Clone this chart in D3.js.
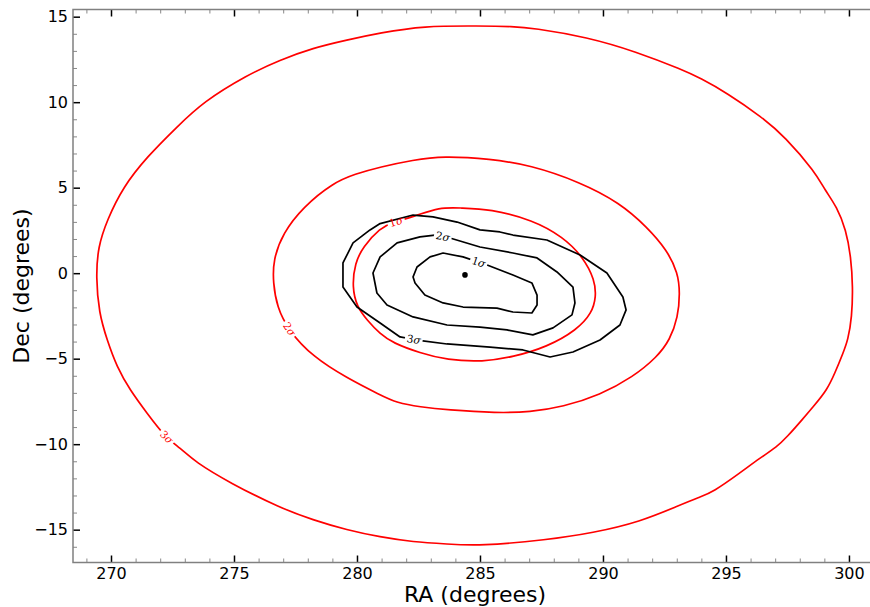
<!DOCTYPE html>
<html><head><meta charset="utf-8">
<script src="https://cdn.jsdelivr.net/npm/d3@7"></script>
<style>body{margin:0;background:#fff}svg{display:block}</style>
</head><body>
<svg id="chart" width="870" height="607"></svg>
<script>
// ---- data ----
const xTicks = [270, 275, 280, 285, 290, 295, 300];
const yTicks = [-15, -10, -5, 0, 5, 10, 15];
const xMinorTicks = [269,271,272,273,274,276,277,278,279,281,282,283,284,286,287,288,289,291,292,293,294,296,297,298,299,301];
const yMinorTicks = [-16,-14,-13,-12,-11,-9,-8,-7,-6,-4,-3,-2,-1,1,2,3,4,6,7,8,9,11,12,13,14];
const xDomain = [268.455, 301.14];
const yDomain = [-16.92, 15.42];
const xTitle = "RA (degrees)";
const yTitle = "Dec (degrees)";
const bestFit = [284.39, -0.10];

// red contours (RA, Dec)
const red3sigma = [[280.94,14.05],[282.68,14.46],[285.00,14.46],[286.34,14.43],[287.15,14.34],[289.35,13.81],[291.38,12.94],[293.25,11.88],[293.94,11.42],[295.04,10.54],[296.46,9.13],[297.40,7.97],[298.62,5.92],[299.02,4.87],[299.51,3.87],[299.88,2.53],[300.08,0.95],[300.16,-0.81],[300.12,-2.56],[299.96,-3.91],[299.76,-4.67],[299.43,-5.84],[299.11,-6.83],[298.54,-7.82],[298.09,-8.58],[297.48,-9.58],[297.07,-10.16],[296.38,-10.81],[295.57,-11.68],[294.47,-12.80],[293.94,-13.09],[293.13,-13.56],[291.50,-14.55],[289.59,-15.19],[287.72,-15.60],[285.00,-15.95],[283.66,-15.84],[282.28,-15.72],[280.94,-15.43],[279.59,-15.02],[278.21,-14.43],[276.87,-13.73],[274.84,-12.27],[273.42,-11.04],[272.81,-10.22],[272.20,-9.58],[271.46,-8.18],[270.77,-6.83],[270.24,-5.49],[269.84,-3.91],[269.51,-2.33],[269.39,-0.22],[269.47,1.53],[269.84,3.11],[270.49,5.04],[271.46,6.80],[272.68,8.55],[273.74,10.01],[275.53,11.59],[276.87,12.47],[278.21,13.17],[279.59,13.64]];
const red2sigma = [[280.94,6.21],[282.28,6.62],[283.50,6.85],[285.41,6.68],[287.03,6.33],[289.07,5.33],[290.69,4.11],[291.79,2.70],[292.60,1.36],[293.05,0.01],[293.13,-1.16],[293.05,-2.56],[292.72,-3.91],[292.20,-4.90],[291.22,-6.07],[289.88,-7.12],[288.37,-7.82],[287.03,-8.12],[285.69,-8.18],[283.66,-8.00],[282.56,-7.82],[281.63,-7.59],[280.94,-7.12],[279.59,-6.13],[278.21,-4.90],[277.20,-3.32],[276.75,-1.98],[276.59,-0.57],[276.59,0.77],[276.99,2.35],[277.81,3.87],[279.02,5.28],[279.92,5.80]];
const red1sigma = [[280.94,2.64],[281.46,2.99],[282.28,3.29],[283.37,3.87],[284.19,3.81],[285.41,3.75],[287.15,3.11],[288.37,2.12],[289.19,0.95],[289.67,-0.40],[289.72,-1.39],[289.55,-2.33],[288.94,-3.32],[287.72,-4.32],[286.34,-4.90],[285.12,-5.19],[283.66,-5.08],[282.56,-4.67],[281.46,-4.08],[280.94,-3.56],[280.41,-2.74],[280.00,-1.98],[279.80,-0.81],[279.92,0.60],[280.24,1.53]];

// black contours (RA, Dec)
const black3sigma = [[280.94,2.90],[282.28,3.40],[283.09,3.29],[284.07,2.99],[285.00,2.53],[285.81,2.41],[286.34,2.23],[287.72,1.94],[289.07,1.06],[290.16,0.01],[290.81,-1.39],[290.94,-2.15],[290.69,-3.03],[289.88,-3.91],[288.78,-4.61],[287.85,-4.90],[286.75,-4.49],[285.41,-4.32],[283.66,-4.14],[282.44,-3.91],[281.75,-3.73],[280.94,-2.91],[280.00,-1.98],[279.43,-0.81],[279.43,0.60],[279.84,1.77],[280.53,2.53]];
const black2sigma = [[283.17,2.23],[283.78,2.06],[285.00,1.53],[286.34,1.18],[287.32,0.89],[288.13,0.07],[288.78,-0.81],[288.86,-1.74],[288.74,-2.44],[287.97,-3.20],[287.15,-3.61],[286.10,-3.32],[285.00,-3.15],[283.66,-3.03],[282.28,-2.56],[281.22,-1.86],[280.81,-1.16],[280.65,0.01],[280.94,0.95],[281.63,1.77],[282.56,2.12]];
const black1sigma = [[283.50,1.18],[282.97,0.95],[282.44,0.36],[282.28,-0.22],[282.36,-0.57],[282.76,-1.28],[283.50,-1.74],[284.31,-1.98],[285.69,-2.04],[286.34,-2.27],[287.11,-2.33],[287.32,-1.86],[287.32,-1.28],[287.11,-0.57],[286.34,-0.11],[285.29,0.48],[284.31,0.95]];

// contour label text and approximate anchor (RA, Dec)
const contourLabelText = ["3", "2", "1", "3", "2", "1"];
const contourLabelAt = [[272.24,-9.61],[277.20,-3.32],[281.59,3.05],[282.32,-3.80],[283.50,2.23],[284.92,0.54]];

// ---- drawing ----
const W = 870, H = 607;
const L = 73, R = 877, T = 9.5, B = 562.5;
const svg = d3.select("#chart");
const x = d3.scaleLinear().domain(xDomain).range([L, R]);
const y = d3.scaleLinear().domain(yDomain).range([B, T]);

const defs = svg.append("defs");
defs.append("clipPath").attr("id", "plotclip")
  .append("rect").attr("x", L).attr("y", T).attr("width", R - L).attr("height", B - T);

const contourSeries = [red3sigma, red2sigma, red1sigma, black3sigma, black2sigma, black1sigma];
const contourColors = ["#ff0000", "#ff0000", "#ff0000", "#000000", "#000000", "#000000"];

const smoothLine = d3.line().x(d => x(d[0])).y(d => y(d[1])).curve(d3.curveBasisClosed);
const polyLine = d3.line().x(d => x(d[0])).y(d => y(d[1])).curve(d3.curveLinearClosed);

const plot = svg.append("g").attr("clip-path", "url(#plotclip)");
const labelLayer = svg.append("g");

contourSeries.forEach((pts, i) => {
  const gen = i < 3 ? smoothLine : polyLine;
  const path = plot.append("path")
    .attr("d", gen(pts))
    .attr("fill", "none")
    .attr("stroke", contourColors[i])
    .attr("stroke-width", 1.7)
    .attr("stroke-linejoin", "round");
  const node = path.node();
  const len = node.getTotalLength();
  const ax = x(contourLabelAt[i][0]), ay = y(contourLabelAt[i][1]);
  let bestS = 0, bestD = Infinity;
  for (let s = 0; s < len; s += 0.5) {
    const p = node.getPointAtLength(s);
    const d = (p.x - ax) ** 2 + (p.y - ay) ** 2;
    if (d < bestD) { bestD = d; bestS = s; }
  }
  const p0 = node.getPointAtLength(Math.max(0, bestS - 6));
  const p1 = node.getPointAtLength(Math.min(len, bestS + 6));
  const pc = node.getPointAtLength(bestS);
  let ang = Math.atan2(p1.y - p0.y, p1.x - p0.x) * 180 / Math.PI;
  if (ang > 90) ang -= 180;
  if (ang < -90) ang += 180;

  const t = labelLayer.append("text")
    .attr("transform", `translate(${pc.x},${pc.y}) rotate(${ang})`)
    .attr("text-anchor", "middle")
    .attr("dy", "0.35em")
    .attr("font-family", "DejaVu Serif, serif")
    .attr("font-size", 10.5)
    .attr("fill", contourColors[i]);
  t.append("tspan").text(contourLabelText[i]);
  t.append("tspan").attr("font-style", "italic").text("σ");
  const tw = t.node().getComputedTextLength();

  const mask = defs.append("mask").attr("id", "mask" + i)
    .attr("maskUnits", "userSpaceOnUse")
    .attr("x", 0).attr("y", 0).attr("width", W).attr("height", H);
  mask.append("rect").attr("x", 0).attr("y", 0).attr("width", W).attr("height", H).attr("fill", "white");
  mask.append("rect")
    .attr("x", -(tw / 2 + 2)).attr("y", -7).attr("width", tw + 4).attr("height", 14)
    .attr("transform", `translate(${pc.x},${pc.y}) rotate(${ang})`)
    .attr("fill", "black");
  path.attr("mask", `url(#mask${i})`);
});

// best-fit point
plot.append("circle")
  .attr("cx", x(bestFit[0])).attr("cy", y(bestFit[1]))
  .attr("r", 2.8).attr("fill", "#000");

// ---- axes ----
const fontFam = "DejaVu Sans, sans-serif";
function styleAxis(g, color, width) {
  g.select(".domain").remove();
  g.selectAll(".tick line").attr("stroke", color).attr("stroke-width", width);
  g.selectAll(".tick text").attr("font-family", fontFam).attr("font-size", 16).attr("fill", "#000");
}
[["axisBottom", B], ["axisTop", T]].forEach(([fn, pos]) => {
  svg.append("g").attr("transform", `translate(0,${pos})`)
    .call(d3[fn](x).tickValues(xMinorTicks).tickSizeInner(-4).tickSizeOuter(0).tickFormat(""))
    .call(g => styleAxis(g, "#888", 1));
});
[["axisLeft", L], ["axisRight", R]].forEach(([fn, pos]) => {
  svg.append("g").attr("transform", `translate(${pos},0)`)
    .call(d3[fn](y).tickValues(yMinorTicks).tickSizeInner(-4).tickSizeOuter(0).tickFormat(""))
    .call(g => styleAxis(g, "#888", 1));
});
svg.append("g").attr("transform", `translate(0,${B})`)
  .call(d3.axisBottom(x).tickValues(xTicks).tickFormat(d3.format("d")).tickSizeInner(-7).tickSizeOuter(0).tickPadding(5))
  .call(g => styleAxis(g, "#000", 1.5));
svg.append("g").attr("transform", `translate(0,${T})`)
  .call(d3.axisTop(x).tickValues(xTicks).tickFormat("").tickSizeInner(-7).tickSizeOuter(0))
  .call(g => styleAxis(g, "#000", 1.5));
svg.append("g").attr("transform", `translate(${L},0)`)
  .call(d3.axisLeft(y).tickValues(yTicks).tickFormat(d3.format("d")).tickSizeInner(-7).tickSizeOuter(0).tickPadding(5))
  .call(g => styleAxis(g, "#000", 1.5));
svg.append("g").attr("transform", `translate(${R},0)`)
  .call(d3.axisRight(y).tickValues(yTicks).tickFormat("").tickSizeInner(-7).tickSizeOuter(0))
  .call(g => styleAxis(g, "#000", 1.5));

// spines
svg.append("rect").attr("x", L).attr("y", T).attr("width", R - L).attr("height", B - T)
  .attr("fill", "none").attr("stroke", "#808080").attr("stroke-width", 1.5);

// axis titles
svg.append("text").attr("x", (L + R) / 2).attr("y", 602)
  .attr("text-anchor", "middle").attr("font-family", fontFam).attr("font-size", 22)
  .attr("fill", "#000").text(xTitle);
svg.append("text").attr("transform", `translate(29,${(T + B) / 2}) rotate(-90)`)
  .attr("text-anchor", "middle").attr("font-family", fontFam).attr("font-size", 22)
  .attr("fill", "#000").text(yTitle);
</script>
</body></html>
